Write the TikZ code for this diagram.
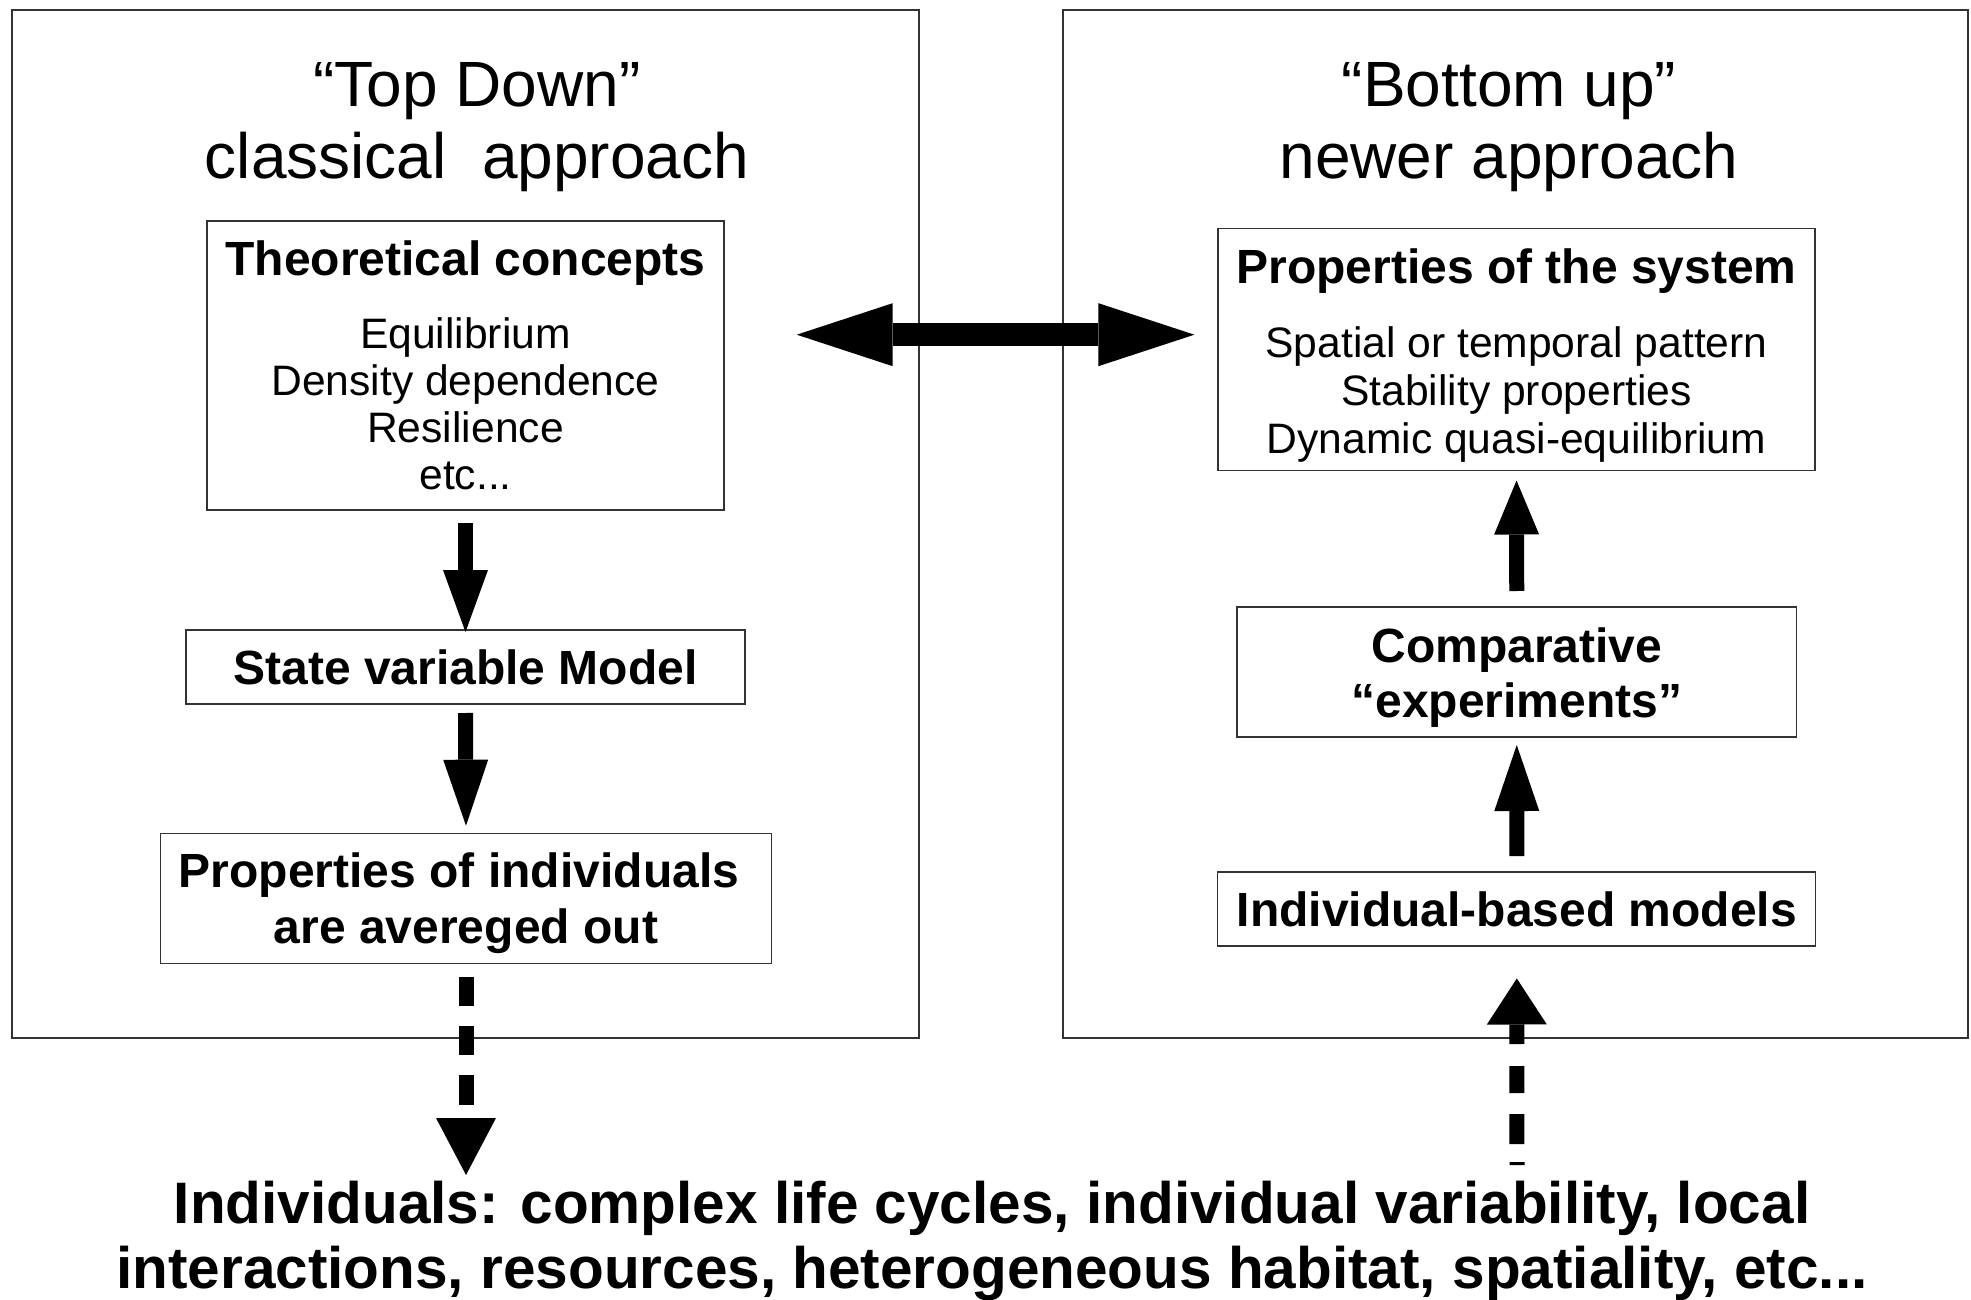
\documentclass[tikz,border=0pt]{standalone}
\usepackage{fontspec}
\setmainfont{Liberation Sans}
\usetikzlibrary{arrows.meta,calc}
\newcommand\hdrtext{\fontsize{48bp}{56bp}\selectfont\bfseries}
\newcommand\tallstrut[1]{\rule{0pt}{#1}}
\begin{document}
\begin{tikzpicture}[x=1bp,y=-1bp,
  frame/.style={draw=black!80,line width=1.3bp,inner sep=0pt,outer sep=0pt},
  box/.style={frame,align=center,font=\fontsize{42.6bp}{47bp}\selectfont},
  hdr/.style={font=\fontsize{48bp}{56bp}\selectfont\bfseries},
  ttl/.style={align=center,inner sep=0pt,font=\fontsize{64bp}{72bp}\selectfont},
  bigarrow/.style={line width=15bp,-{Triangle[length=#1,width=45bp,line width=0pt]}},
  dasharrow/.style={line width=15bp,-{Triangle[length=#1,width=60bp,line width=0pt]}},
  dblarrow/.style={line width=23bp,{Triangle[length=96bp,width=63bp,line width=0pt]}-{Triangle[length=96bp,width=63bp,line width=0pt]}}
]
\fill[white] (0,0) rectangle (1971,1300);
\useasboundingbox (0,0) rectangle (1971,1300);

% outer frames
\node[frame,minimum width=907bp,minimum height=1028bp] (L) at (465.5,524) {};
\node[frame,minimum width=905bp,minimum height=1028bp] (R) at (1515.5,524) {};

% titles
\node[ttl] (lt) at (477,127) {“Top Down”\\classical\ \ approach};
\node[ttl] (rt) at (1509,127) {“Bottom up”\\newer approach};

% left column
\node[box,minimum width=517bp,minimum height=289bp] (tc) at (465.5,365.5)
  {{\hdrtext Theoretical concepts}\\[26bp]Equilibrium\\Density dependence\\Resilience\\etc...};
\node[box,hdr,minimum width=559bp,minimum height=74bp] (sv) at (465.5,667) {State variable Model};
\node[box,hdr,minimum width=611bp,minimum height=130bp] (pi) at (466,898.7)
  {\tallstrut{43bp}Properties of individuals\kern14bp\\are avereged out};

% right column
\node[box,font=\fontsize{42.6bp}{48bp}\selectfont,minimum width=597bp,minimum height=242bp] (ps) at (1516.5,349.5)
  {{\hdrtext\tallstrut{47bp}Properties of the system}\\[26bp]Spatial or temporal pattern\\Stability properties\\Dynamic quasi-equilibrium};
\node[box,font=\fontsize{48bp}{55bp}\selectfont\bfseries,minimum width=559.5bp,minimum height=130bp] (ce) at (1516.75,672)
  {\tallstrut{45bp}Comparative\\“experiments”};
\node[box,hdr,minimum width=598bp,minimum height=74bp] (ib) at (1516.8,909) {Individual-based models};

% bottom text
\node[align=center,inner sep=0pt,font=\fontsize{58.5bp}{65bp}\selectfont\bfseries] (bt) at (992,1241)
  {Individuals: complex life cycles, individual variability, local\\interactions, resources, heterogeneous habitat, spatiality, etc...};

% free ends
\coordinate (dtip) at (466,1175);
\coordinate (ustart) at (1517,1165);

% arrows
\draw[bigarrow=62bp] ([yshift=-13bp]tc.south) -- ([yshift=-2bp]sv.north);
\draw[bigarrow=66bp] ([yshift=-9bp]sv.south) -- ([yshift=8bp]pi.north);
\draw[bigarrow=66bp] ([yshift=16bp]ib.north) -- ([yshift=-8bp]ce.south);
\draw[bigarrow=54bp] ([yshift=16bp]ce.north) -- ([yshift=-10bp]ps.south);
\draw[dasharrow=57bp,dash pattern=on 29.3bp off 20bp] ([yshift=-13bp]pi.south) -- (dtip);
\draw[dasharrow=46bp,dash pattern=on 3bp off 18bp on 30bp off 21bp on 27bp off 22bp on 30bp off 0bp] (ustart) -- ([yshift=-32.5bp]ib.south);
\draw[dblarrow] ($(tc.east)+(72.7,-30.8)$) -- ($(ps.west)+(-23.6,-14.8)$);
\end{tikzpicture}
\end{document}
